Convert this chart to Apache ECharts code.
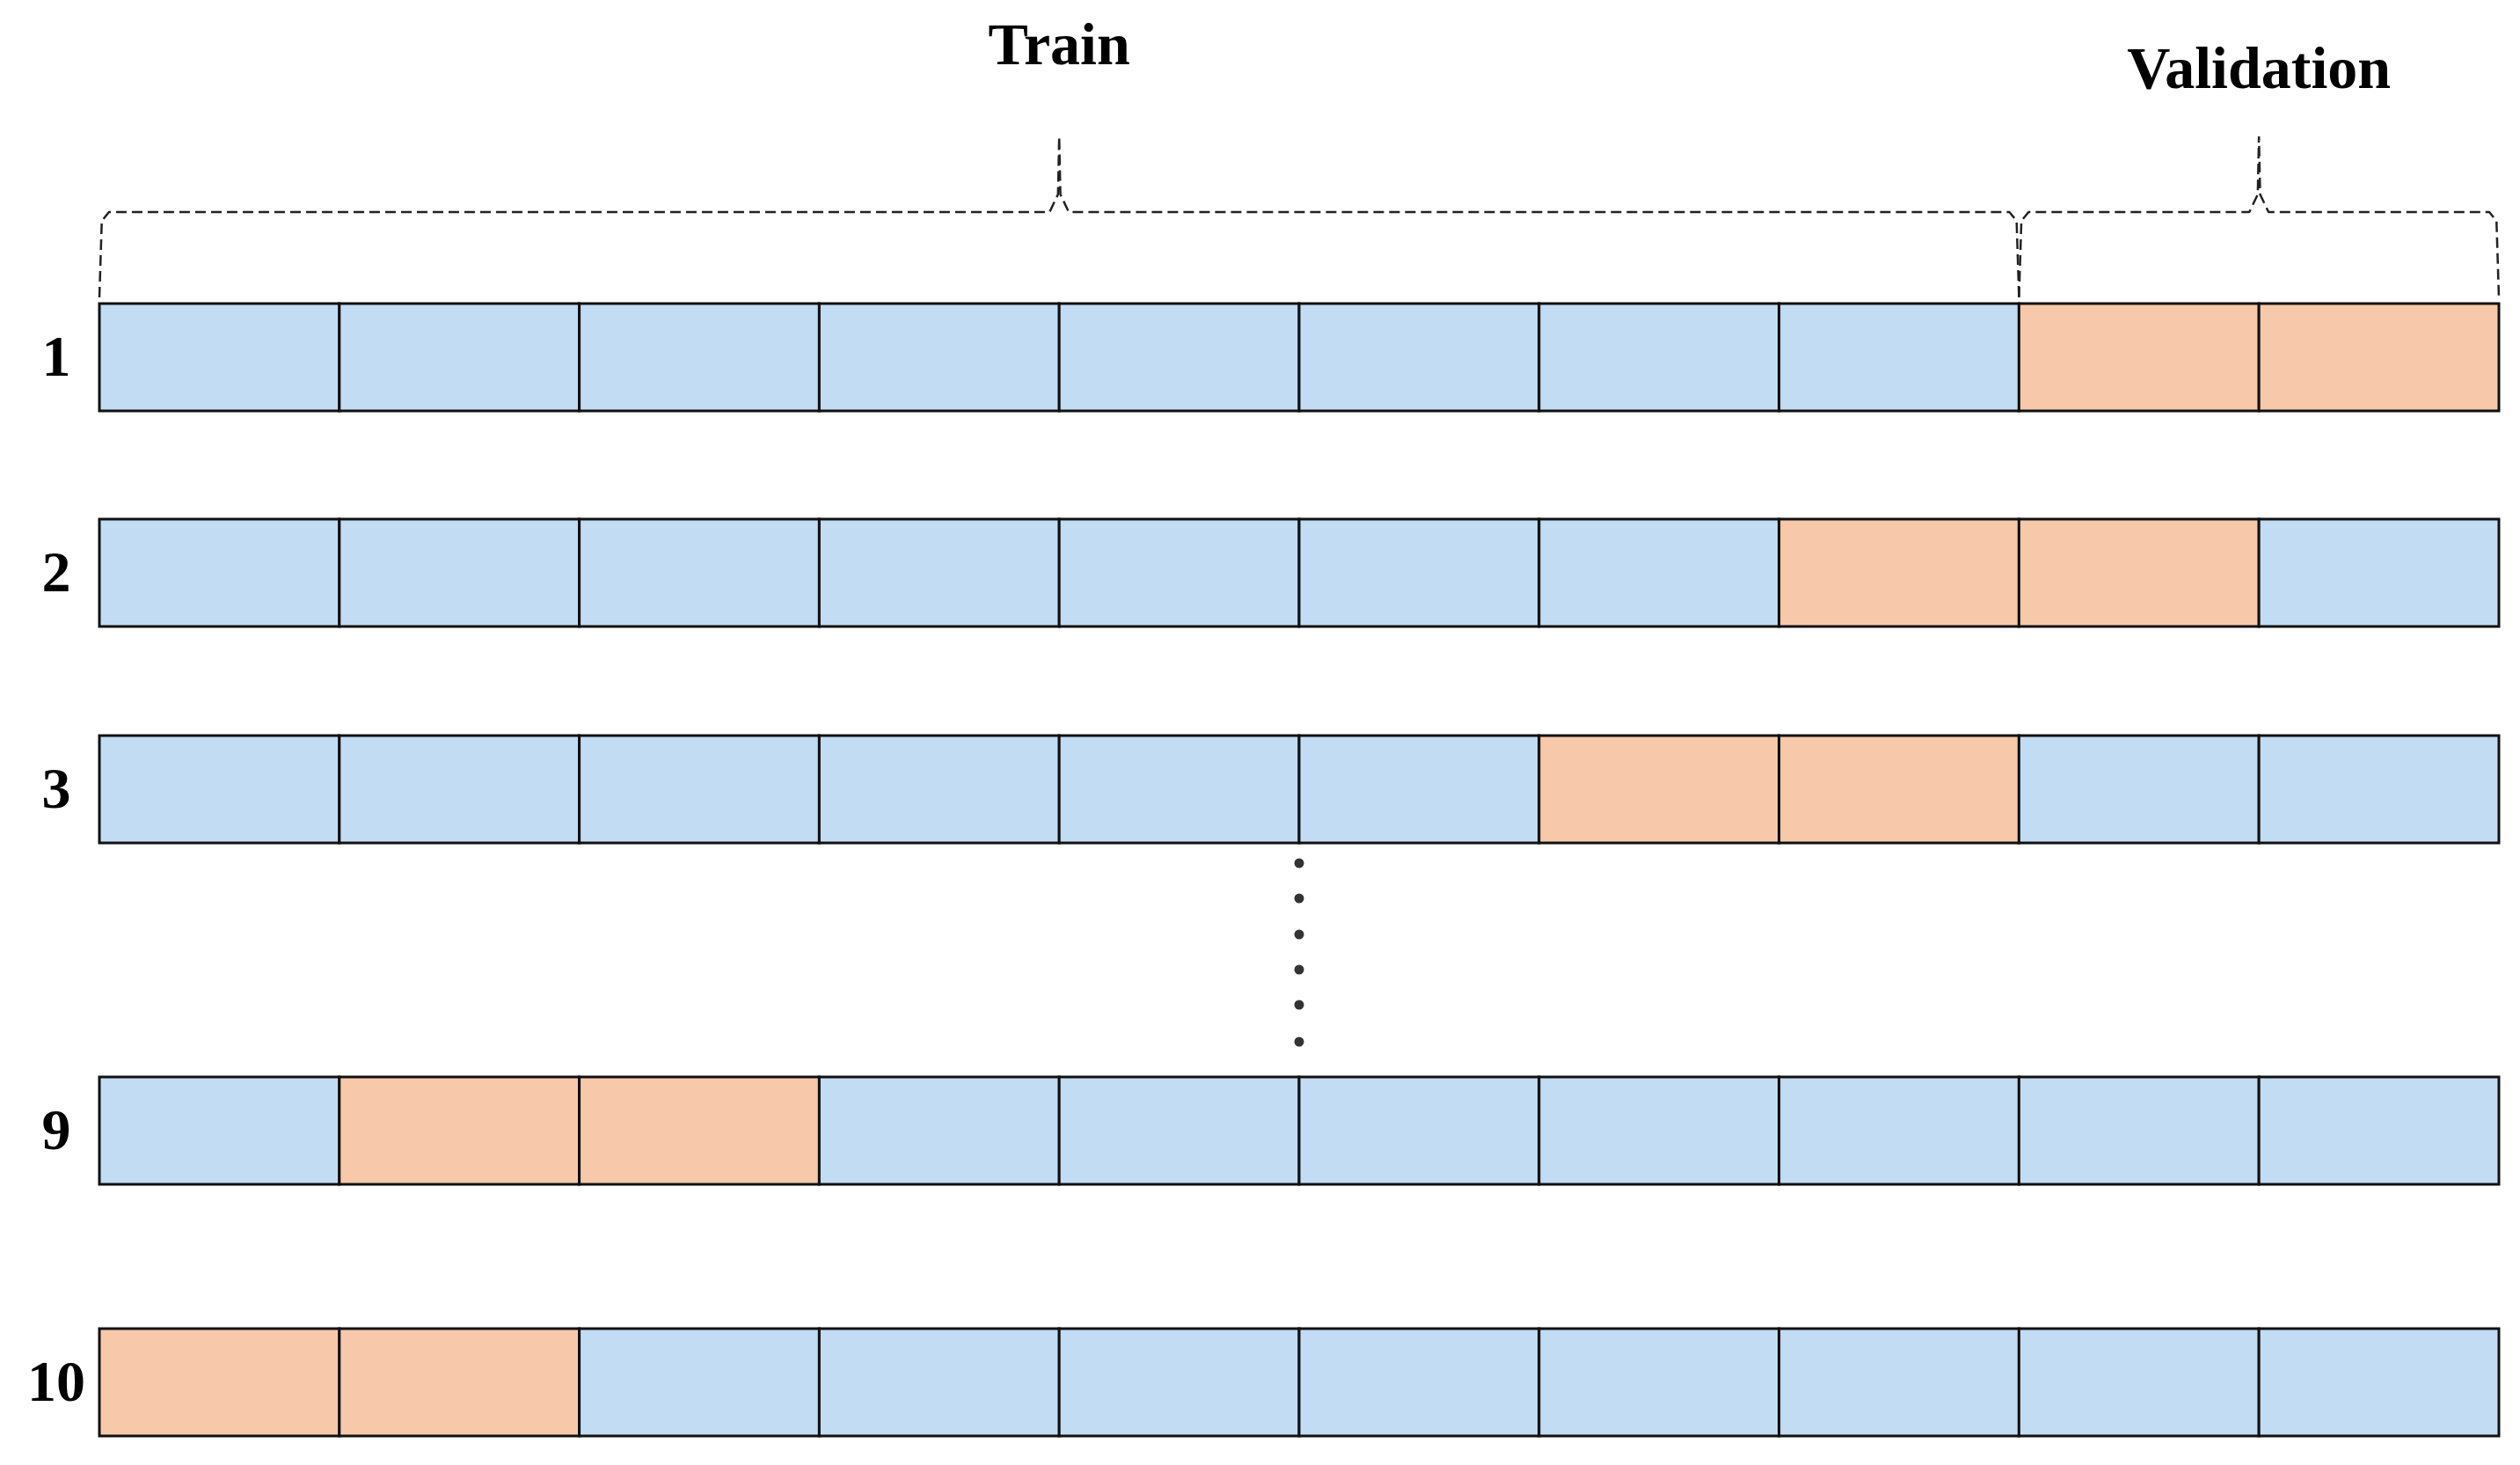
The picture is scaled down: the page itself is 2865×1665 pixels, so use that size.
<!DOCTYPE html>
<html lang="en">
<head>
<meta charset="UTF-8">
<title>K-fold</title>
<script src="https://cdn.jsdelivr.net/npm/echarts@6/dist/echarts.min.js"></script>
<style>html,body{margin:0;background:#fff}#main{width:2865px;height:1665px}</style>
</head>
<body>
<div id="main"></div>
<script>
// fold rows: label, vertical centre (px units of the y axis), validation cell indexes
var rowLabels = ['1', '2', '3', '9', '10'];
var rowCenters = [406, 651, 897, 1285, 1571];
var validCells = [[8, 9], [7, 8], [6, 7], [1, 2], [0, 1]];
var cellCount = 10;
var rowHeight = 122;
var dotsY = [981, 1021, 1062, 1102, 1142, 1184];
var braces = [
    {name: 'Train', from: 0, to: 8, peak: 4, labelY: 55},
    {name: 'Validation', from: 8, to: 10, peak: 9, labelY: 82}
];

var cells = [];
rowCenters.forEach(function (yc, r) {
    for (var i = 0; i < cellCount; i++) {
        cells.push([i, yc, validCells[r].indexOf(i) >= 0 ? 1 : 0]);
    }
});

var myChart = echarts.init(document.getElementById('main'));
var font = '"Liberation Serif", "Times New Roman", serif';

function braceLines(b) {
    var yb = 338, yh = 241, yt = 155, e = 0.04;
    return [
        [b.from, yb], [b.from + 0.01, yh + 10], [b.from + e, yh], [b.peak - e, yh],
        [b.peak - 0.005, yh - 20], [b.peak, yt],
        [b.peak + 0.005, yh - 20], [b.peak + e, yh], [b.to - e, yh], [b.to - 0.01, yh + 10], [b.to, yb]
    ];
}

var option = {
    animation: false,
    grid: {left: 113, right: 24, top: 0, bottom: 0},
    xAxis: {type: 'value', min: 0, max: 10, show: false},
    yAxis: {type: 'value', min: 0, max: 1665, inverse: true, show: false},
    series: [
        {
            type: 'custom',
            data: cells,
            renderItem: function (params, api) {
                var p0 = api.coord([api.value(0), api.value(1)]);
                var p1 = api.coord([api.value(0) + 1, api.value(1)]);
                return {
                    type: 'rect',
                    shape: {x: p0[0], y: p0[1] - rowHeight / 2, width: p1[0] - p0[0], height: rowHeight},
                    style: {fill: api.value(2) ? '#f7c9aa' : '#c2dcf4', stroke: '#111', lineWidth: 3}
                };
            }
        },
        {
            type: 'custom',
            data: rowCenters.map(function (y, i) { return [-0.18, y, i]; }),
            renderItem: function (params, api) {
                var p = api.coord([api.value(0), api.value(1)]);
                return {
                    type: 'text',
                    style: {x: p[0], y: p[1] + 4, text: rowLabels[api.value(2)], align: 'center', verticalAlign: 'middle',
                        font: 'bold 66px ' + font, fill: '#000'}
                };
            }
        },
        {
            type: 'scatter',
            data: dotsY.map(function (y) { return [5, y]; }),
            symbolSize: 11,
            itemStyle: {color: '#000'}
        }
    ].concat(braces.map(function (b) {
        return {
            type: 'line',
            data: braceLines(b),
            symbol: 'none',
            lineStyle: {color: '#222', width: 2.5, type: [12, 6]}
        };
    })).concat([{
        type: 'custom',
        data: braces.map(function (b, i) { return [b.peak, b.labelY, i]; }),
        renderItem: function (params, api) {
            var p = api.coord([api.value(0), api.value(1)]);
            return {
                type: 'text',
                style: {x: p[0], y: p[1], text: braces[api.value(2)].name, align: 'center', verticalAlign: 'middle',
                    font: 'bold 68px ' + font, fill: '#000'}
            };
        }
    }])
};
myChart.setOption(option);
</script>
</body>
</html>
